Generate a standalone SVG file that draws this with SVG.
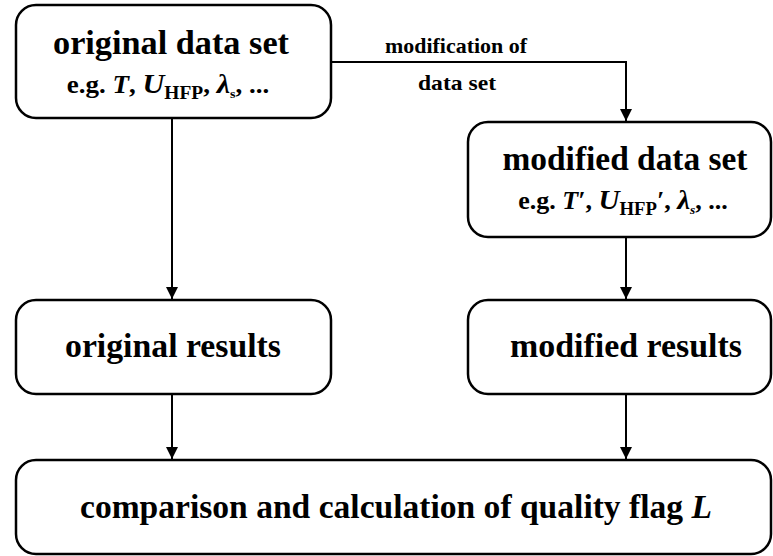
<svg xmlns="http://www.w3.org/2000/svg" width="773" height="556" viewBox="0 0 773 556">
<style>
.box{fill:#fff;stroke:#000;stroke-width:2.5}
.t{font-family:"Liberation Serif","Times New Roman",serif;font-weight:bold;fill:#000;text-anchor:middle}
.c{fill:none;stroke:#000;stroke-width:2}
</style>
<defs>
<marker id="ah" viewBox="0 0 12 12" refX="12" refY="6" markerWidth="12" markerHeight="12" markerUnits="userSpaceOnUse" orient="auto">
<path d="M0,0 L12,6 L0,12 z" fill="#000"/>
</marker>
</defs>
<g id="connectors">
<path class="c" d="M331,62 H626 V121" marker-end="url(#ah)"/>
<path class="c" d="M172,118 V299" marker-end="url(#ah)"/>
<path class="c" d="M626,237 V299" marker-end="url(#ah)"/>
<path class="c" d="M172,394 V459" marker-end="url(#ah)"/>
<path class="c" d="M626,394 V459" marker-end="url(#ah)"/>
<text class="t" x="456" y="53" font-size="22" textLength="142" lengthAdjust="spacingAndGlyphs">modification of</text>
<text class="t" x="457" y="90" font-size="22" textLength="78" lengthAdjust="spacingAndGlyphs">data set</text>
</g>
<g id="original-data-set">
<rect class="box" x="16" y="5" width="315" height="113" rx="20"/>
<text class="t" x="171" y="54" font-size="33" textLength="236" lengthAdjust="spacingAndGlyphs">original data set</text>
<text class="t" x="0" y="93" font-size="25" transform="translate(168,0) scale(1.08,1)">e.g. <tspan font-style="italic">T</tspan>, <tspan font-style="italic" font-size="28">U</tspan><tspan font-size="18" dy="6">HFP</tspan><tspan dy="-6">, </tspan><tspan font-style="italic" font-size="28">λ</tspan><tspan font-size="13" dy="5">s</tspan><tspan dy="-5">, ...</tspan></text>
</g>
<g id="modified-data-set">
<rect class="box" x="468" y="122" width="303" height="115" rx="20"/>
<text class="t" x="625" y="170" font-size="33" textLength="245" lengthAdjust="spacingAndGlyphs">modified data set</text>
<text class="t" x="0" y="209" font-size="25" transform="translate(623,0) scale(1.04,1)">e.g. <tspan font-style="italic">T′</tspan>, <tspan font-style="italic" font-size="28">U</tspan><tspan font-size="18" dy="6">HFP</tspan><tspan dy="-6" font-style="italic">′</tspan>, <tspan font-style="italic" font-size="28">λ</tspan><tspan font-size="13" font-style="italic" dy="5">s</tspan><tspan dy="-5">, ...</tspan></text>
</g>
<g id="original-results">
<rect class="box" x="16" y="300" width="315" height="94" rx="20"/>
<text class="t" x="173" y="357" font-size="33" textLength="216" lengthAdjust="spacingAndGlyphs">original results</text>
</g>
<g id="modified-results">
<rect class="box" x="468" y="300" width="303" height="94" rx="20"/>
<text class="t" x="626" y="357" font-size="33" textLength="232" lengthAdjust="spacingAndGlyphs">modified results</text>
</g>
<g id="comparison">
<rect class="box" x="16" y="460" width="755" height="94" rx="20"/>
<text class="t" x="396" y="518" font-size="33" textLength="632" lengthAdjust="spacingAndGlyphs">comparison and calculation of quality flag <tspan font-style="italic">L</tspan></text>
</g>
</svg>
